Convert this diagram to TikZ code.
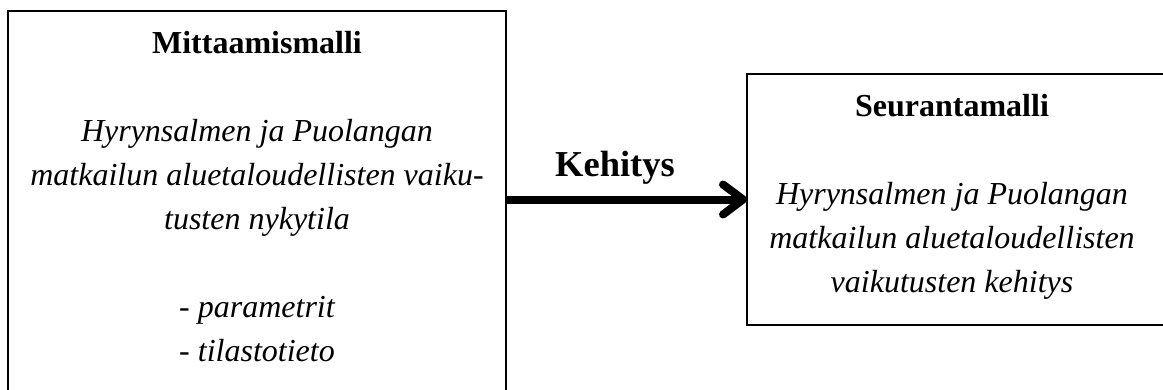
\documentclass[tikz,border=0pt]{standalone}
\usepackage{fontspec}
\setmainfont{Liberation Serif}
\usetikzlibrary{arrows.meta}
\tikzset{
  box/.style={draw, line width=2pt, inner sep=0pt, outer sep=0pt},
  ttl/.style={anchor=base, inner sep=0pt, font=\fontsize{32}{38}\selectfont\bfseries},
  body/.style={anchor=base, inner sep=0pt, font=\fontsize{32}{38}\selectfont\itshape},
  lbl/.style={anchor=base, inner sep=0pt, font=\fontsize{36.5}{42}\selectfont\bfseries},
  flow/.style={line width=8pt, -{Straight Barb[length=20pt,width=30pt,line cap=round,line join=round]}}
}
\begin{document}
\begin{tikzpicture}[x=1pt,y=-1pt]
\useasboundingbox (0,0) rectangle (1163,389);
\clip (0,0) rectangle (1163,389);
% boxes
\node[box, minimum width=498pt, minimum height=420pt] (mitta) at (257,221) {};
\node[box, minimum width=430pt, minimum height=251pt] (seur) at (962,199.5) {};
% left box text
\node[ttl] (t1) at (257,53) {Mittaamismalli};
\node[body] (l1) at (257,141) {Hyrynsalmen ja Puolangan};
\node[body] (l2) at (257,185) {matkailun aluetaloudellisten vaiku-};
\node[body] (l3) at (257,229) {tusten nykytila};
\node[body] (l4) at (257,317) {- parametrit};
\node[body] (l5) at (257,361) {- tilastotieto};
% right box text
\node[ttl] (t2) at (952,116) {Seurantamalli};
\node[body] (r1) at (952,204) {Hyrynsalmen ja Puolangan};
\node[body] (r2) at (952,248) {matkailun aluetaloudellisten};
\node[body] (r3) at (952,292) {vaikutusten kehitys};
% arrow
\node[lbl] (keh) at (615,176) {Kehitys};
\draw[flow] (mitta.east |- seur.west) -- (seur.west);
\end{tikzpicture}
\end{document}
